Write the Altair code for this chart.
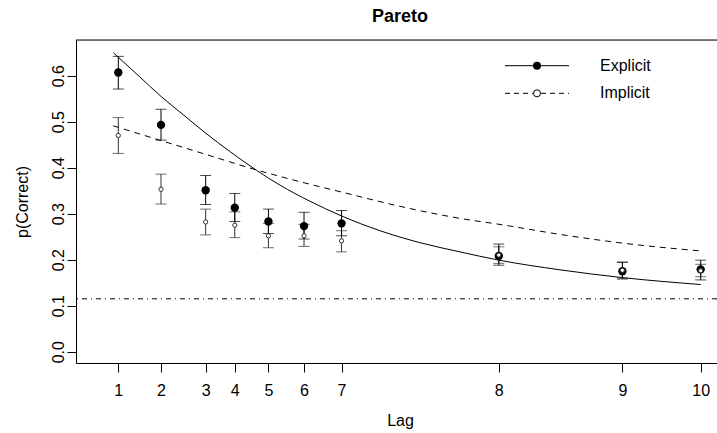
import altair as alt
import pandas as pd

# ---- data ----
lags = [1, 2, 3, 4, 5, 6, 7, 8, 9, 10]
lag_pos = [1.00, 1.66, 2.35, 2.80, 3.32, 3.87, 4.45, 6.88, 8.79, 10.00]

exp_mean = [0.607, 0.493, 0.351, 0.313, 0.283, 0.273, 0.279, 0.208, 0.175, 0.179]
exp_lo = [0.571, 0.460, 0.320, 0.283, 0.257, 0.245, 0.252, 0.188, 0.158, 0.156]
exp_hi = [0.642, 0.527, 0.383, 0.344, 0.310, 0.303, 0.307, 0.234, 0.195, 0.199]

imp_mean = [0.470, 0.353, 0.282, 0.275, 0.252, 0.252, 0.241, 0.210, 0.177, 0.176]
imp_lo = [0.431, 0.321, 0.254, 0.248, 0.226, 0.229, 0.217, 0.192, 0.160, 0.163]
imp_hi = [0.509, 0.386, 0.310, 0.304, 0.279, 0.277, 0.263, 0.228, 0.194, 0.190]

exp_curve_x = [0.923, 1.335, 1.660, 2.031, 2.351, 2.717, 3.139, 3.499, 3.963, 4.452,
               5.044, 5.662, 6.280, 6.883, 7.826, 8.795, 10.0]
exp_curve_y = [0.650, 0.597, 0.555, 0.512, 0.475, 0.436, 0.394, 0.362, 0.327, 0.295,
               0.263, 0.237, 0.217, 0.199, 0.178, 0.161, 0.146]

imp_curve_x = [0.923, 1.660, 2.351, 3.139, 3.499, 3.963, 4.452, 5.353, 6.358, 6.883,
               7.826, 8.795, 10.0]
imp_curve_y = [0.491, 0.459, 0.429, 0.395, 0.381, 0.364, 0.347, 0.316, 0.288, 0.277,
               0.255, 0.236, 0.219]

chance_level = [0.115]
y_ticks = [0.0, 0.1, 0.2, 0.3, 0.4, 0.5, 0.6]
series_names = ["Explicit", "Implicit"]

# ---- tables ----
pts = pd.DataFrame({"pos": lag_pos, "lag": lags,
                    "em": exp_mean, "elo": exp_lo, "ehi": exp_hi,
                    "im": imp_mean, "ilo": imp_lo, "ihi": imp_hi})
ecurve = pd.DataFrame({"pos": exp_curve_x, "p": exp_curve_y})
icurve = pd.DataFrame({"pos": imp_curve_x, "p": imp_curve_y})
chance = pd.DataFrame({"p": chance_level})

W, H = 641, 323
FONT = "Liberation Sans"
FS = 16

label_expr = "[" + ",".join("'%d'" % l for l in lags) + "][indexof([" + \
    ",".join(repr(v) for v in lag_pos) + "], datum.value)]"

xscale = alt.Scale(domain=[0.3463, 10.252], nice=False, zero=False)
yscale = alt.Scale(domain=[-0.02457, 0.6776], nice=False, zero=False)

xaxis = alt.Axis(values=lag_pos, labelExpr=label_expr, title="Lag", grid=False,
                 tickSize=9, tickColor="black", domainColor="black",
                 labelFont=FONT, labelFontSize=FS, labelColor="black",
                 labelPadding=10, labelFlush=False, labelOverlap=False,
                 titleFont=FONT, titleFontSize=FS, titleFontWeight="normal",
                 titleColor="black", titleX=324, titleY=57, titleAlign="center",
                 titleBaseline="middle")
yaxis = alt.Axis(values=y_ticks, format=".1f", title="p(Correct)", grid=False,
                 tickSize=9, tickColor="black", domainColor="black",
                 labelFont=FONT, labelFontSize=FS, labelColor="black",
                 labelAngle=270, labelAlign="center", labelBaseline="bottom",
                 labelPadding=1, labelFlush=False,
                 titleFont=FONT, titleFontSize=FS, titleFontWeight="normal",
                 titleColor="black", titleAngle=270, titleX=-54, titleY=161.5,
                 titleAlign="center", titleBaseline="middle")


def X(f):
    return alt.X(f, type="quantitative", scale=xscale, axis=xaxis)


def Y(f):
    return alt.Y(f, type="quantitative", scale=yscale, axis=yaxis)


base = alt.Chart(pts)

top_border = alt.Chart(chance).mark_rule(color="black", strokeWidth=1).encode(
    x=alt.value(0), x2=alt.value(W), y=alt.value(0))

chance_line = alt.Chart(chance).mark_rule(color="black", strokeWidth=1,
                                          strokeDash=[5, 4, 1, 4]).encode(
    y=Y("p"))

exp_line = alt.Chart(ecurve).mark_line(color="black", strokeWidth=1,
                                       interpolate="monotone").encode(
    x=X("pos"), y=Y("p"))
imp_line = alt.Chart(icurve).mark_line(color="black", strokeWidth=1,
                                       strokeDash=[6, 5],
                                       interpolate="monotone").encode(
    x=X("pos"), y=Y("p"))

e_stem = base.mark_rule(color="black", strokeWidth=1).encode(
    x=X("pos"), y=Y("elo"), y2="ehi")
e_cap_lo = base.mark_tick(color="black", orient="horizontal", size=11,
                          thickness=1).encode(x=X("pos"), y=Y("elo"))
e_cap_hi = base.mark_tick(color="black", orient="horizontal", size=11,
                          thickness=1).encode(x=X("pos"), y=Y("ehi"))

i_stem = base.mark_rule(color="#333333", strokeWidth=1).encode(
    x=X("pos"), y=Y("ilo"), y2="ihi")
i_cap_lo = base.mark_tick(color="#333333", orient="horizontal", size=11,
                          thickness=1).encode(x=X("pos"), y=Y("ilo"))
i_cap_hi = base.mark_tick(color="#333333", orient="horizontal", size=11,
                          thickness=1).encode(x=X("pos"), y=Y("ihi"))

e_pts = base.mark_circle(color="black", size=70, opacity=1).encode(
    x=X("pos"), y=Y("em"))
i_pts = base.mark_circle(fill="white", stroke="#333333", strokeWidth=1,
                         size=18, opacity=1).encode(x=X("pos"), y=Y("im"))

# ---- legend (drawn inside the plot, like R's legend()) ----
leg = pd.DataFrame({"label": series_names})
leg_e = alt.Chart(leg).transform_filter(alt.datum.label == "Explicit")
leg_i = alt.Chart(leg).transform_filter(alt.datum.label == "Implicit")
ly1, ly2 = 25.7, 53.3
legend_layers = [
    leg_e.mark_rule(color="black", strokeWidth=1).encode(
        x=alt.value(429), x2=alt.value(493), y=alt.value(ly1)),
    leg_e.mark_circle(color="black", size=64, opacity=1).encode(
        x=alt.value(461), y=alt.value(ly1)),
    leg_e.mark_text(align="left", baseline="middle", font=FONT, fontSize=FS,
                    color="black").encode(x=alt.value(524), y=alt.value(ly1),
                                          text="label:N"),
    leg_i.mark_rule(color="black", strokeWidth=1, strokeDash=[5, 4]).encode(
        x=alt.value(429), x2=alt.value(493), y=alt.value(ly2)),
    leg_i.mark_circle(fill="white", stroke="black", strokeWidth=1, size=50,
                      opacity=1).encode(x=alt.value(461), y=alt.value(ly2)),
    leg_i.mark_text(align="left", baseline="middle", font=FONT, fontSize=FS,
                    color="black").encode(x=alt.value(524), y=alt.value(ly2),
                                          text="label:N"),
]

chart = alt.layer(
    chance_line, exp_line, imp_line,
    i_stem, i_cap_lo, i_cap_hi, e_stem, e_cap_lo, e_cap_hi,
    e_pts, i_pts, top_border, *legend_layers
).properties(
    width=W, height=H,
    title=alt.TitleParams("Pareto", font=FONT, fontSize=18, fontWeight="bold",
                          color="black", anchor="middle", dx=3.5, offset=0,
                          baseline="alphabetic"),
    autosize=alt.AutoSizeParams(type="none"),
    padding={"left": 76, "top": 40, "right": 0, "bottom": 70},
).configure_view(stroke=None).configure(background="white")

chart.save("out.html", embed_options={"renderer": "svg", "actions": False})
